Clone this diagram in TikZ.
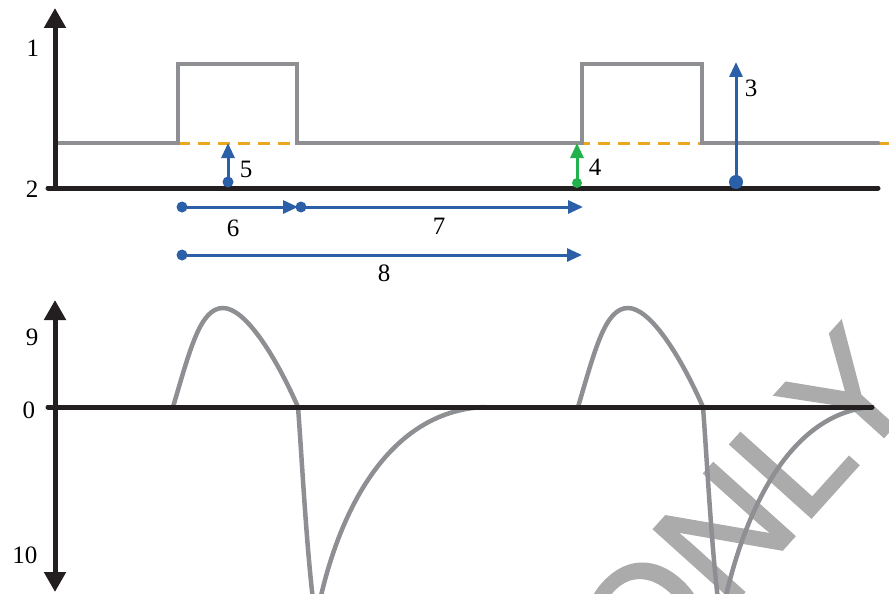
\documentclass[tikz,border=0pt]{standalone}
\usepackage{fontspec}
\setmainfont{Liberation Serif}
\newfontfamily\stampfont[FakeBold=1.6]{Liberation Sans}
\usetikzlibrary{arrows.meta}

\definecolor{axisblack}{HTML}{231F20}
\definecolor{tracegray}{HTML}{8E8F92}
\definecolor{stampgray}{HTML}{ABABAB}
\definecolor{restorange}{HTML}{EAA820}
\definecolor{measblue}{HTML}{2B5FA8}
\definecolor{measgreen}{HTML}{22B14C}

\begin{document}
\begin{tikzpicture}[
x=1pt, y=-1pt,
axisline/.style={axisblack, line width=5pt, line cap=round},
axistip/.style={-{Triangle[length=20pt,width=21pt]}},
trace/.style={tracegray, line width=4.5pt, line cap=round},
restline/.style={restorange, line width=3pt, dash pattern=on 12pt off 8pt},
ruler/.style={measblue, line width=3pt, -{Triangle[length=15pt,width=13pt]}},
endpt/.style={circle, fill=measblue, inner sep=0pt, minimum size=11pt},
lbl/.style={font=\fontsize{25}{25}\selectfont, inner sep=0pt}
]
\useasboundingbox (0,0) rectangle (889,594);
\clip (0,0) rectangle (889,594);

% stamp across the lower right
\node[stampgray, font=\stampfont\fontsize{158}{158}\selectfont, rotate=48,
  anchor=base west, inner sep=0pt] (stamp) at (644,703) {ONLY};

% upper plot: pulse train over its rest level
\draw[restline] (178,143) -- (889,143);
\draw[trace] (58,143) -- (178,143) -- (178,64) -- (297,64) -- (297,143)
  -- (582,143) -- (582,64) -- (702,64) -- (702,143) -- (878,143);
\draw[axisline] (48,188) -- (878,188);
\draw[axisline, axistip] (55,188) -- (55,8);
\node[lbl] (l1) at (33,48) {1};
\node[lbl] (l2) at (32,189) {2};

% heights
\node[endpt] (d5) at (228,182) {};
\coordinate (t5) at (228,143);
\draw[ruler] (d5.center) -- (t5);
\node[lbl] (l5) at (246,169) {5};

\node[endpt, fill=measgreen, minimum size=10pt] (d4) at (577,183) {};
\coordinate (t4) at (577,143);
\draw[ruler, measgreen] (d4.center) -- (t4);
\node[lbl] (l4) at (595,167) {4};

\node[endpt, minimum size=14pt] (d3) at (736,182) {};
\coordinate (t3) at (736,62);
\draw[ruler] (d3.center) -- (t3);
\node[lbl] (l3) at (751,88) {3};

% widths and period
\node[endpt] (d6) at (182,207) {};
\coordinate (t6) at (298,207);
\draw[ruler] (d6.center) -- (t6);
\node[lbl] (l6) at (233,228) {6};

\node[endpt] (d7) at (301,207) {};
\coordinate (t7) at (583,207);
\draw[ruler] (d7.center) -- (t7);
\node[lbl] (l7) at (439,226) {7};

\node[endpt] (d8) at (182,255) {};
\coordinate (t8) at (582,255);
\draw[ruler] (d8.center) -- (t8);
\node[lbl] (l8) at (384,273) {8};

% lower plot: response to each pulse
\draw[trace] (173,407) .. controls (190,350) and (200,308) .. (223,308)
  .. controls (245,308) and (275,355) .. (298,407)
  .. controls (302,460) and (306,540) .. (313,600);
\draw[trace] (320,600) .. controls (345,490) and (400,410) .. (485,407);
\draw[trace] (578,407) .. controls (595,350) and (605,308) .. (628,308)
  .. controls (650,308) and (680,355) .. (703,407)
  .. controls (707,460) and (711,540) .. (718,600);
\draw[trace] (725,600) .. controls (750,490) and (800,412) .. (872,407);

\draw[axisline] (48,407) -- (872,407);
\draw[axisline, {Triangle[length=20pt,width=21pt]}-{Triangle[length=20pt,width=21pt]}] (55,592) -- (55,300);
\node[lbl] (l9) at (32,337) {9};
\node[lbl] (l0) at (29,410) {0};
\node[lbl] (l10) at (25,555) {10};
\end{tikzpicture}
\end{document}
